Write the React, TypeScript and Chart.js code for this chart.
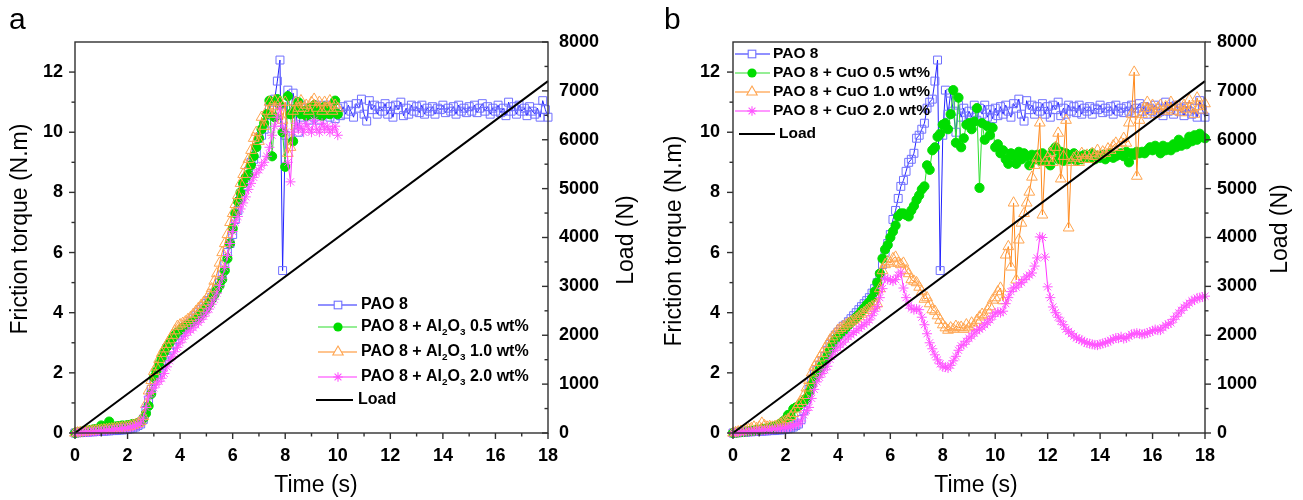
import React, { useEffect, useRef } from 'react';
import { Chart, registerables } from 'chart.js';

Chart.register(...registerables);

// ---------------- data ----------------
const TIME_STEP = 0.1; // sampling interval (s)

const X_TICKS = [0, 2, 4, 6, 8, 10, 12, 14, 16, 18];
const X_MINOR = [1, 3, 5, 7, 9, 11, 13, 15, 17];
const Y_TICKS = [0, 2, 4, 6, 8, 10, 12];
const Y_MINOR = [1, 3, 5, 7, 9, 11];
const LOAD_TICKS = [0, 1000, 2000, 3000, 4000, 5000, 6000, 7000, 8000];
const LOAD_MINOR = [500, 1500, 2500, 3500, 4500, 5500, 6500, 7500];

const LOAD_TIME = [0, 18];
const LOAD_VALUE = [0, 7200];

const PAO8 = [
  0, 0.01, 0.02, 0.02, 0.03, 0.03, 0.04, 0.04, 0.05, 0.05,
  0.06, 0.06, 0.07, 0.07, 0.08, 0.08, 0.09, 0.1, 0.1, 0.11,
  0.12, 0.14, 0.16, 0.2, 0.25, 0.3, 0.45, 0.75, 1.1, 1.45,
  1.75, 1.95, 2.1, 2.25, 2.4, 2.55, 2.75, 2.95, 3.1, 3.25,
  3.35, 3.45, 3.55, 3.6, 3.7, 3.8, 3.9, 4.0, 4.1, 4.2,
  4.3, 4.4, 4.5, 4.65, 4.8, 5.0, 5.25, 5.6, 6.0, 6.3,
  6.6, 7.1, 7.4, 7.8, 8.2, 8.4, 8.7, 9.0, 9.1, 9.3,
  9.8, 9.9, 10.1, 10.3, 10.8, 11.0, 11.1, 11.7, 12.4, 5.4,
  9.9, 11.4, 10.6, 11.3, 10.7, 10.0, 10.9, 10.5, 10.8, 10.4,
  10.7, 10.5, 10.9, 10.4, 10.8, 10.6, 10.9, 10.5, 10.75, 10.45,
  10.8, 10.55, 10.85, 10.6, 10.9, 10.7, 10.5, 10.95, 10.8, 11.1,
  10.6, 10.37, 11.05, 10.75, 10.9, 10.6, 10.85, 10.7, 10.95, 10.6,
  10.85, 10.5, 10.9, 10.75, 11.0, 10.55, 10.8, 10.6, 10.9, 10.7,
  10.85, 10.65, 10.9, 10.6, 10.8, 10.7, 10.85, 10.6, 10.8, 10.75,
  10.9, 10.65, 10.8, 10.7, 10.85, 10.6, 10.9, 10.7, 10.8, 10.65,
  10.85, 10.7, 10.9, 10.65, 10.8, 10.95, 10.7, 10.85, 10.6, 10.8,
  10.7, 10.9, 10.65, 10.8, 10.55, 11.0, 10.7, 10.85, 10.6, 10.9,
  10.7, 10.8, 10.55, 10.85, 10.7, 10.6, 10.8, 10.5, 11.05, 10.75,
  10.5,
];

const AL2O3_05 = [
  0, 0.02, 0.03, 0.05, 0.06, 0.08, 0.1, 0.12, 0.13, 0.15,
  0.25, 0.18, 0.2, 0.38, 0.2, 0.21, 0.22, 0.23, 0.25, 0.24,
  0.26, 0.27, 0.3, 0.3, 0.33, 0.38, 0.48, 0.65, 0.9, 1.3,
  1.85, 2.05, 2.3, 2.5, 2.7, 2.87, 3.0, 3.15, 3.25, 3.35,
  3.42, 3.5, 3.55, 3.6, 3.65, 3.7, 3.75, 3.85, 3.95, 4.05,
  4.15, 4.3, 4.45, 4.6, 4.75, 4.9, 5.1, 5.4, 5.8, 6.3,
  6.8, 7.3, 7.7, 8.0, 8.3, 8.5, 8.6, 8.9, 9.2, 9.5,
  9.8, 10.1, 10.3, 10.6, 11.05, 9.2, 10.5, 11.1, 10.9, 10.0,
  8.85, 11.2, 10.6, 9.7, 10.8, 11.0, 10.6, 10.7, 10.55, 10.8,
  10.6, 10.9, 10.6, 10.75, 10.55, 10.85, 10.65, 10.6, 10.7, 11.05,
  10.6,
];

const AL2O3_10 = [
  0, 0.01, 0.02, 0.03, 0.04, 0.05, 0.06, 0.07, 0.08, 0.09,
  0.1, 0.11, 0.12, 0.13, 0.14, 0.15, 0.16, 0.17, 0.18, 0.19,
  0.2, 0.22, 0.25, 0.28, 0.32, 0.38, 0.55, 0.95, 1.4, 1.75,
  2.05, 2.2, 2.45, 2.65, 2.8, 2.95, 3.1, 3.25, 3.4, 3.55,
  3.6, 3.65, 3.7, 3.78, 3.85, 3.95, 4.05, 4.15, 4.25, 4.35,
  4.45, 4.6, 4.8, 5.05, 5.3, 5.65, 6.0, 6.3, 6.6, 7.0,
  7.3, 7.6, 7.9, 8.3, 8.6, 8.9, 9.1, 9.4, 9.8, 10.0,
  9.7, 10.5, 10.2, 10.7, 11.0, 10.6, 11.05, 10.7, 11.0, 10.4,
  11.0, 9.3, 9.5, 10.7, 11.0, 10.8, 11.05, 10.8, 10.9, 10.7,
  11.0, 11.1, 10.8, 11.0, 10.7, 11.0, 10.8, 11.05, 10.7, 10.9,
  10.8,
];

const AL2O3_20 = [
  0, 0.01, 0.02, 0.02, 0.03, 0.03, 0.04, 0.05, 0.05, 0.06,
  0.07, 0.08, 0.09, 0.1, 0.11, 0.12, 0.13, 0.14, 0.15, 0.16,
  0.17, 0.19, 0.21, 0.24, 0.28, 0.33, 0.5, 0.85, 1.2, 1.35,
  1.5, 1.62, 1.72, 1.82, 1.98, 2.2, 2.4, 2.55, 2.7, 2.85,
  3.0, 3.12, 3.25, 3.35, 3.42, 3.5, 3.6, 3.68, 3.78, 3.88,
  4.0, 4.12, 4.28, 4.45, 4.65, 4.9, 5.15, 5.5, 5.9, 6.3,
  6.7, 7.0, 7.2, 7.45, 7.65, 7.85, 8.1, 8.3, 8.5, 8.65,
  8.75, 8.9, 9.0, 9.2, 9.5, 9.9, 10.2, 10.5, 10.8, 10.2,
  10.0, 9.0, 8.35, 10.0, 10.3, 10.1, 10.2, 10.0, 10.3, 10.1,
  10.0, 10.4, 10.1, 10.0, 10.3, 10.1, 10.2, 10.0, 10.1, 10.2,
  9.9,
];

const CUO_05 = [
  0, 0.01, 0.02, 0.03, 0.04, 0.05, 0.06, 0.07, 0.08, 0.1,
  0.11, 0.12, 0.14, 0.16, 0.18, 0.2, 0.22, 0.25, 0.3, 0.38,
  0.45, 0.6, 0.55, 0.8, 0.85, 0.9, 1.0, 1.05, 1.15, 1.35,
  1.6, 1.8, 1.95, 2.1, 2.25, 2.4, 2.55, 2.75, 2.95, 3.1,
  3.2, 3.3, 3.38, 3.48, 3.58, 3.68, 3.75, 3.85, 3.93, 4.05,
  4.15, 4.26, 4.35, 4.48, 4.7, 5.0, 5.3, 5.8, 6.1, 6.25,
  6.5, 6.7, 6.9, 7.2, 7.3, 7.3, 7.25, 7.2, 7.4, 7.55,
  7.75, 7.9, 8.1, 8.2, 8.9, 8.75, 9.4, 9.5, 9.85, 9.95,
  10.25, 10.3, 10.1, 10.6, 11.4, 9.65, 11.15, 9.5, 9.8, 10.25,
  10.3, 10.1, 10.35, 10.8, 8.15, 10.3, 9.75, 10.2, 9.9, 10.15,
  9.5, 9.6, 9.3, 9.4, 9.1, 8.95, 9.3, 9.2, 8.95, 9.35,
  9.1, 9.3, 9.2, 8.9, 9.25, 9.1, 9.25, 9.05, 9.3, 9.2,
  9.0, 8.9, 9.4, 9.5, 9.1, 9.35, 9.05, 9.3, 9.1, 9.2,
  9.3, 9.05, 9.2, 9.1, 9.25, 9.15, 9.15, 9.3, 9.1, 9.2,
  9.15, 9.25, 9.1, 9.2, 9.3, 9.15, 9.2, 9.25, 9.3, 9.2,
  9.35, 9.0, 9.3, 9.25, 9.35, 9.3, 9.35, 9.3, 9.4, 9.5,
  9.4, 9.55, 9.45, 9.3, 9.55, 9.4, 9.5, 9.4, 9.6, 9.5,
  9.75, 9.55, 9.65, 9.6, 9.85, 9.7, 9.9, 9.75, 9.95, 9.85,
  9.8,
];

const CUO_10 = [
  0, 0.02, 0.04, 0.06, 0.08, 0.1, 0.12, 0.15, 0.2, 0.15,
  0.2, 0.33, 0.25, 0.2, 0.22, 0.2, 0.22, 0.25, 0.3, 0.35,
  0.4, 0.45, 0.55, 0.65, 0.8, 0.95, 1.05, 1.25, 1.5, 1.75,
  2.0, 2.2, 2.35, 2.5, 2.65, 2.8, 2.95, 3.1, 3.2, 3.3,
  3.42, 3.48, 3.54, 3.6, 3.65, 3.7, 3.75, 3.8, 3.87, 3.95,
  4.0, 4.08, 4.15, 4.2, 4.25, 4.3, 4.8, 5.4, 5.6, 5.7,
  5.65, 5.8, 5.85, 5.65, 5.6, 5.65, 5.4, 5.3, 5.1, 5.05,
  5.0, 4.85, 4.7, 4.45, 4.5, 4.3, 4.1, 4.05, 3.9, 3.75,
  3.6, 3.5, 3.42, 3.5, 3.45, 3.55, 3.5, 3.52, 3.45, 3.6,
  3.5, 3.66, 3.55, 3.75, 3.86, 3.95, 3.9, 4.09, 4.2, 4.42,
  4.5, 4.7, 4.82, 4.4, 5.92, 6.2, 5.52, 7.65, 5.09, 6.42,
  6.98, 7.3, 7.65, 8.01, 8.51, 8.9, 9.14, 10.31, 7.25, 9.0,
  9.14, 9.3, 9.0, 9.5, 9.97, 8.45, 9.2, 10.4, 6.82, 9.0,
  9.14, 9.2, 9.0, 9.3, 9.1, 9.24, 9.1, 9.3, 9.2, 9.4,
  9.25, 9.35, 9.3, 9.45, 9.4, 9.55, 9.64, 9.5, 9.65, 9.8,
  9.64, 10.31, 10.6, 12.0, 8.54, 10.4, 10.6, 10.8, 11.0, 10.7,
  10.9, 10.6, 10.8, 10.9, 10.7, 10.85, 10.75, 11.0, 10.7, 10.85,
  10.84, 10.65, 10.9, 10.75, 11.07, 10.8, 10.6, 11.14, 10.85, 10.74,
  10.95,
];

const CUO_20 = [
  0, 0.01, 0.02, 0.02, 0.03, 0.04, 0.04, 0.05, 0.06, 0.07,
  0.08, 0.08, 0.09, 0.1, 0.11, 0.12, 0.13, 0.14, 0.15, 0.16,
  0.17, 0.19, 0.21, 0.24, 0.28, 0.3, 0.4, 0.6, 0.75, 0.85,
  1.15, 1.45, 1.7, 1.85, 1.98, 2.1, 2.22, 2.45, 2.62, 2.75,
  2.85, 2.93, 3.02, 3.12, 3.2, 3.27, 3.34, 3.4, 3.48, 3.55,
  3.6, 3.68, 3.76, 3.9, 4.05, 4.2, 4.5, 4.8, 5.15, 5.1,
  5.09, 5.05, 5.1, 5.25, 5.35, 4.82, 4.5, 4.25, 4.15, 4.1,
  4.12, 4.1, 3.85, 3.6, 3.3, 3.0, 2.8, 2.6, 2.43, 2.3,
  2.2, 2.19, 2.16, 2.25, 2.4, 2.55, 2.75, 2.9, 2.95, 3.05,
  3.15, 3.22, 3.32, 3.4, 3.45, 3.52, 3.6, 3.68, 3.76, 3.88,
  3.99, 4.02, 4.0, 4.05, 4.3, 4.5, 4.7, 4.82, 4.85, 4.95,
  5.0, 5.1, 5.19, 5.25, 5.32, 5.55, 5.82, 6.52, 6.5, 5.85,
  4.86, 4.5, 4.19, 4.0, 3.85, 3.72, 3.6, 3.45, 3.38, 3.3,
  3.22, 3.16, 3.12, 3.08, 3.03, 2.99, 2.97, 2.95, 2.93, 2.92,
  2.95, 2.98, 3.0, 3.03, 3.08, 3.12, 3.16, 3.15, 3.2, 3.14,
  3.16, 3.22, 3.28, 3.3, 3.32, 3.3, 3.28, 3.3, 3.32, 3.36,
  3.4, 3.44, 3.42, 3.42, 3.5, 3.58, 3.62, 3.66, 3.78, 3.88,
  3.99, 4.08, 4.18, 4.25, 4.32, 4.4, 4.42, 4.49, 4.5, 4.52,
  4.55,
];

// ---------------- styling ----------------
const FONT = "'Liberation Sans', Arial, Helvetica, sans-serif";

type Seg = { t: string; sub?: boolean };
type MarkerKind = 'rect' | 'circle' | 'triangle' | 'star' | 'none';

const STYLE_PAO = { line: '#2323ff', point: '#6f6fff', fill: 'rgba(255,255,255,0)', marker: 'rect' as MarkerKind, radius: 5.6 };
const STYLE_05 = { line: '#2ddd2d', point: '#00dd00', fill: '#00dd00', marker: 'circle' as MarkerKind, radius: 4.6 };
const STYLE_10 = { line: '#ff8a1e', point: '#ffa550', fill: 'rgba(255,255,255,0)', marker: 'triangle' as MarkerKind, radius: 6.2 };
const STYLE_20 = { line: '#ff33ff', point: '#ff55ff', fill: '#ff55ff', marker: 'star' as MarkerKind, radius: 5 };

const LABELS_A: Seg[][] = [
  [{ t: 'PAO 8' }],
  [{ t: 'PAO 8 + Al' }, { t: '2', sub: true }, { t: 'O' }, { t: '3', sub: true }, { t: ' 0.5 wt%' }],
  [{ t: 'PAO 8 + Al' }, { t: '2', sub: true }, { t: 'O' }, { t: '3', sub: true }, { t: ' 1.0 wt%' }],
  [{ t: 'PAO 8 + Al' }, { t: '2', sub: true }, { t: 'O' }, { t: '3', sub: true }, { t: ' 2.0 wt%' }],
  [{ t: 'Load' }],
];
const LABELS_B: Seg[][] = [
  [{ t: 'PAO 8' }],
  [{ t: 'PAO 8 + CuO 0.5 wt%' }],
  [{ t: 'PAO 8 + CuO 1.0 wt%' }],
  [{ t: 'PAO 8 + CuO 2.0 wt%' }],
  [{ t: 'Load' }],
];

interface PanelCfg {
  letter: string;
  width: number;
  leftWidth: number;
  rightWidth: number;
  leftPad: number;
  rightPad: number;
  rightInward: boolean;
  series: number[][];
  labels: Seg[][];
  legend: { x1: number; x2: number; mx: number; tx: number; lx1: number; lx2: number; ltx: number; rows: number[]; size: number };
  leftTitle: [number, number];
  rightTitle: [number, number];
  bottomTitle: [number, number];
  letterPos: [number, number];
}

const PANEL_A: PanelCfg = {
  letter: 'a',
  width: 650,
  leftWidth: 75,
  rightWidth: 102,
  leftPad: 12,
  rightPad: 11,
  rightInward: true,
  series: [PAO8, AL2O3_05, AL2O3_10, AL2O3_20],
  labels: LABELS_A,
  legend: { x1: 318, x2: 357, mx: 338, tx: 361, lx1: 316, lx2: 353, ltx: 358, rows: [305, 327, 352, 377, 400], size: 16 },
  leftTitle: [21, 229],
  rightTitle: [627, 240],
  bottomTitle: [316, 486],
  letterPos: [9, 29],
};

const PANEL_B: PanelCfg = {
  letter: 'b',
  width: 653,
  leftWidth: 83,
  rightWidth: 98,
  leftPad: 13,
  rightPad: 12,
  rightInward: false,
  series: [PAO8, CUO_05, CUO_10, CUO_20],
  labels: LABELS_B,
  legend: { x1: 85, x2: 120, mx: 102, tx: 123, lx1: 89, lx2: 125, ltx: 129, rows: [54, 73, 92, 111, 134], size: 15.5 },
  leftTitle: [25, 241],
  rightTitle: [631, 229],
  bottomTitle: [326, 486],
  letterPos: [14, 29],
};

const STYLES = [STYLE_PAO, STYLE_05, STYLE_10, STYLE_20];

// ---------------- helpers ----------------
function toPoints(values: number[]) {
  return values.map((v, i) => ({ x: Math.round(i * TIME_STEP * 10) / 10, y: v }));
}

function drawMarker(ctx: CanvasRenderingContext2D, kind: MarkerKind, x: number, y: number, color: string) {
  ctx.save();
  ctx.strokeStyle = color;
  ctx.fillStyle = color;
  ctx.lineWidth = 1.1;
  if (kind === 'rect') {
    ctx.fillStyle = '#fff';
    ctx.fillRect(x - 3.8, y - 3.8, 7.6, 7.6);
    ctx.strokeRect(x - 3.8, y - 3.8, 7.6, 7.6);
  } else if (kind === 'circle') {
    ctx.beginPath();
    ctx.arc(x, y, 4.6, 0, Math.PI * 2);
    ctx.fill();
  } else if (kind === 'triangle') {
    const r = 6;
    ctx.beginPath();
    ctx.moveTo(x, y - r);
    ctx.lineTo(x + r * 0.866, y + r * 0.5);
    ctx.lineTo(x - r * 0.866, y + r * 0.5);
    ctx.closePath();
    ctx.fillStyle = '#fff';
    ctx.fill();
    ctx.stroke();
  } else if (kind === 'star') {
    const r = 4.8;
    const d = r * 0.707;
    ctx.beginPath();
    ctx.moveTo(x - r, y); ctx.lineTo(x + r, y);
    ctx.moveTo(x, y - r); ctx.lineTo(x, y + r);
    ctx.moveTo(x - d, y - d); ctx.lineTo(x + d, y + d);
    ctx.moveTo(x - d, y + d); ctx.lineTo(x + d, y - d);
    ctx.stroke();
  }
  ctx.restore();
}

function drawSegs(ctx: CanvasRenderingContext2D, segs: Seg[], x: number, y: number, size: number) {
  let cx = x;
  ctx.textAlign = 'left';
  ctx.textBaseline = 'middle';
  ctx.fillStyle = '#000';
  for (const s of segs) {
    const fs = s.sub ? size * 0.62 : size;
    ctx.font = `bold ${fs}px ${FONT}`;
    ctx.fillText(s.t, cx, s.sub ? y + size * 0.34 : y);
    cx += ctx.measureText(s.t).width;
  }
}

const decorPlugin = {
  id: 'decor',
  afterDraw(chart: any, _args: any, opts: any) {
    const cfg: PanelCfg = opts.cfg;
    const ctx: CanvasRenderingContext2D = chart.ctx;
    const ca = chart.chartArea;
    const sx = chart.scales.x;
    const sy = chart.scales.y;
    const sy1 = chart.scales.y1;
    ctx.save();
    ctx.strokeStyle = '#303030';
    ctx.lineWidth = 1.4;
    ctx.strokeRect(ca.left, ca.top, ca.right - ca.left, ca.bottom - ca.top);
    const line = (x1: number, y1: number, x2: number, y2: number) => {
      ctx.beginPath();
      ctx.moveTo(x1, y1);
      ctx.lineTo(x2, y2);
      ctx.stroke();
    };
    const MAJ = 6;
    const MIN = 3.5;
    X_TICKS.forEach((v) => { const p = sx.getPixelForValue(v); line(p, ca.bottom, p, ca.bottom + MAJ); });
    X_MINOR.forEach((v) => { const p = sx.getPixelForValue(v); line(p, ca.bottom, p, ca.bottom + MIN); });
    Y_TICKS.forEach((v) => { const p = sy.getPixelForValue(v); line(ca.left - MAJ, p, ca.left, p); });
    Y_MINOR.forEach((v) => { const p = sy.getPixelForValue(v); line(ca.left - MIN, p, ca.left, p); });
    const dir = cfg.rightInward ? -1 : 1;
    LOAD_TICKS.forEach((v) => { const p = sy1.getPixelForValue(v); line(ca.right, p, ca.right + dir * MAJ, p); });
    LOAD_MINOR.forEach((v) => { const p = sy1.getPixelForValue(v); line(ca.right, p, ca.right + dir * MIN, p); });

    // axis titles
    ctx.fillStyle = '#000';
    ctx.font = `23px ${FONT}`;
    ctx.textAlign = 'center';
    ctx.textBaseline = 'middle';
    ctx.fillText('Time (s)', cfg.bottomTitle[0], cfg.bottomTitle[1]);
    ctx.save();
    ctx.translate(cfg.leftTitle[0], cfg.leftTitle[1]);
    ctx.rotate(-Math.PI / 2);
    ctx.fillText('Friction torque (N.m)', 0, 0);
    ctx.restore();
    ctx.save();
    ctx.translate(cfg.rightTitle[0], cfg.rightTitle[1]);
    ctx.rotate(-Math.PI / 2);
    ctx.fillText('Load (N)', 0, 0);
    ctx.restore();

    // panel letter
    ctx.font = `30px ${FONT}`;
    ctx.textAlign = 'left';
    ctx.textBaseline = 'alphabetic';
    ctx.fillText(cfg.letter, cfg.letterPos[0], cfg.letterPos[1]);

    // legend
    const L = cfg.legend;
    cfg.labels.forEach((segs, i) => {
      const y = L.rows[i];
      if (i < 4) {
        const st = STYLES[i];
        ctx.strokeStyle = st.line;
        ctx.lineWidth = 1.2;
        line(L.x1, y, L.x2, y);
        drawMarker(ctx, st.marker, L.mx, y, st.point);
        drawSegs(ctx, segs, L.tx, y, L.size);
      } else {
        ctx.strokeStyle = '#000';
        ctx.lineWidth = 2;
        line(L.lx1, y, L.lx2, y);
        drawSegs(ctx, segs, L.ltx, y, L.size);
      }
    });
    ctx.restore();
  },
};

function buildConfig(cfg: PanelCfg): any {
  const tickFont = { family: FONT, size: 18, weight: 'bold' as const };
  const datasets: any[] = cfg.series.map((vals, i) => {
    const st = STYLES[i];
    return {
      label: cfg.labels[i].map((s) => s.t).join(''),
      data: toPoints(vals),
      yAxisID: 'y',
      borderColor: st.line,
      borderWidth: 1,
      pointStyle: st.marker,
      pointRadius: st.radius,
      pointBorderColor: st.point,
      pointBackgroundColor: st.fill,
      pointBorderWidth: 1,
      tension: 0,
      fill: false,
      clip: false,
      order: 4 - i,
    };
  });
  datasets.push({
    label: 'Load',
    data: LOAD_TIME.map((t, i) => ({ x: t, y: LOAD_VALUE[i] })),
    yAxisID: 'y1',
    borderColor: '#000',
    borderWidth: 2,
    pointRadius: 0,
    tension: 0,
    fill: false,
    clip: false,
    order: 0,
  });
  return {
    type: 'line',
    data: { datasets },
    plugins: [decorPlugin],
    options: {
      responsive: false,
      maintainAspectRatio: false,
      animation: false,
      devicePixelRatio: 1,
      layout: { padding: { top: 42, left: 0, right: 0, bottom: 0 } },
      plugins: {
        legend: { display: false },
        tooltip: { enabled: false },
        decor: { cfg },
      },
      scales: {
        x: {
          type: 'linear',
          min: 0,
          max: 18,
          afterBuildTicks: (s: any) => { s.ticks = X_TICKS.map((v) => ({ value: v })); },
          afterFit: (s: any) => { s.height = 67; },
          ticks: { font: tickFont, color: '#000', padding: 12, maxRotation: 0, callback: (v: any) => String(v) },
          grid: { display: false, drawTicks: false },
          border: { display: false },
        },
        y: {
          type: 'linear',
          position: 'left',
          min: 0,
          max: 13,
          afterBuildTicks: (s: any) => { s.ticks = Y_TICKS.map((v) => ({ value: v })); },
          afterFit: (s: any) => { s.width = cfg.leftWidth; },
          ticks: { font: tickFont, color: '#000', padding: cfg.leftPad, callback: (v: any) => String(v) },
          grid: { display: false, drawTicks: false },
          border: { display: false },
        },
        y1: {
          type: 'linear',
          position: 'right',
          min: 0,
          max: 8000,
          afterBuildTicks: (s: any) => { s.ticks = LOAD_TICKS.map((v) => ({ value: v })); },
          afterFit: (s: any) => { s.width = cfg.rightWidth; },
          ticks: { font: tickFont, color: '#000', padding: cfg.rightPad, callback: (v: any) => String(v) },
          grid: { display: false, drawTicks: false },
          border: { display: false },
        },
      },
    },
  };
}

function Panel({ cfg, left }: { cfg: PanelCfg; left: number }) {
  const ref = useRef<HTMLCanvasElement>(null);
  useEffect(() => {
    if (!ref.current) return;
    const chart = new Chart(ref.current, buildConfig(cfg));
    return () => chart.destroy();
  }, [cfg]);
  return (
    <canvas
      ref={ref}
      width={cfg.width}
      height={500}
      style={{ position: 'absolute', left, top: 0, width: cfg.width, height: 500, display: 'block' }}
    />
  );
}

export default function App() {
  return (
    <div style={{ position: 'fixed', left: 0, top: 0, width: 1303, height: 500, background: '#fff', overflow: 'hidden' }}>
      <Panel cfg={PANEL_A} left={0} />
      <Panel cfg={PANEL_B} left={650} />
    </div>
  );
}
